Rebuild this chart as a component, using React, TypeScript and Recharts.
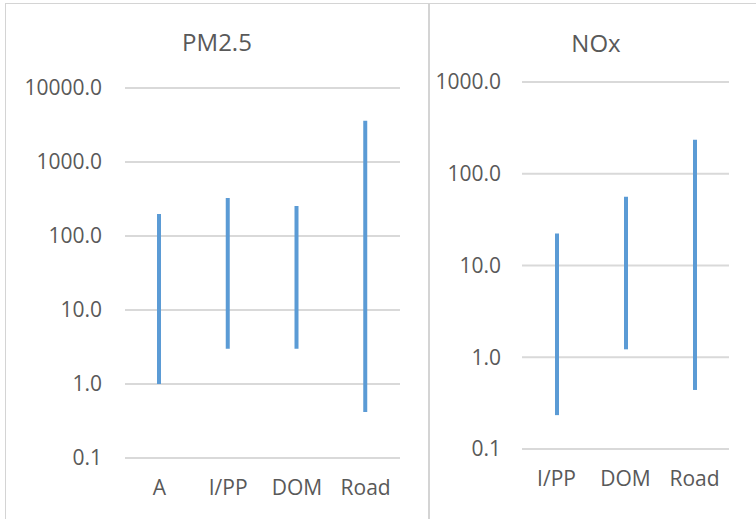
import { BarChart, Bar, XAxis, YAxis, CartesianGrid } from "recharts";

const pmCategories = ["A", "I/PP", "DOM", "Road"];
const pmLow = [1.0, 3.0, 3.0, 0.42];
const pmHigh = [198, 325, 255, 3600];

const noxCategories = ["I/PP", "DOM", "Road"];
const noxLow = [0.234, 1.22, 0.44];
const noxHigh = [22.3, 56, 234];

const pmTicks = [0.1, 1, 10, 100, 1000, 10000];
const noxTicks = [0.1, 1, 10, 100, 1000];

const font = "'Open Sans', 'Noto Sans', sans-serif";
const textColor = "#595959";
const barColor = "#5B9BD5";

const pmData = pmCategories.map((c, i) => ({ name: c, range: [pmLow[i], pmHigh[i]] }));
const noxData = noxCategories.map((c, i) => ({ name: c, range: [noxLow[i], noxHigh[i]] }));

const fmt = (v: number) => v.toFixed(1);

export default function App() {
  const tick = { fill: textColor, fontSize: 21, fontFamily: font };
  return (
    <div style={{ position: "absolute", left: 0, top: 0, width: 756, height: 519, background: "#fff", overflow: "hidden" }}>
      {/* panel borders */}
      <div style={{ position: "absolute", left: 5, top: 3, width: 422, height: 530, borderLeft: "1px solid #d4d4d4", borderTop: "1px solid #d4d4d4", borderRight: "1px solid #d4d4d4" }} />
      <div style={{ position: "absolute", left: 429, top: 3, width: 340, height: 530, borderLeft: "1px solid #d4d4d4", borderTop: "1px solid #d4d4d4" }} />

      <div style={{ position: "absolute", left: 0, top: 0 }}>
        <BarChart width={428} height={519} data={pmData} margin={{ top: 88, right: 28, bottom: 0, left: 0 }}>
          <CartesianGrid vertical={false} stroke="#d9d9d9" strokeWidth={2} />
          <XAxis dataKey="name" axisLine={false} tickLine={false} tickSize={0} tickMargin={22} height={61} tick={tick} interval={0} />
          <YAxis scale="log" domain={[0.1, 10000]} ticks={pmTicks} allowDataOverflow width={125} axisLine={false} tickLine={false} tickSize={0} tickMargin={23} tickFormatter={fmt} tick={tick} />
          <Bar dataKey="range" fill={barColor} barSize={4} isAnimationActive={false} />
        </BarChart>
      </div>
      <div style={{ position: "absolute", left: 0, width: 434, top: 25, textAlign: "center", fontFamily: font, fontSize: 24, color: textColor }}>PM2.5</div>

      <div style={{ position: "absolute", left: 429, top: 0 }}>
        <BarChart width={327} height={519} data={noxData} margin={{ top: 82, right: 27, bottom: 0, left: 0 }}>
          <CartesianGrid vertical={false} stroke="#d9d9d9" strokeWidth={2} />
          <XAxis dataKey="name" axisLine={false} tickLine={false} tickSize={0} tickMargin={22} height={70} tick={tick} interval={0} />
          <YAxis scale="log" domain={[0.1, 1000]} ticks={noxTicks} allowDataOverflow width={93} axisLine={false} tickLine={false} tickSize={0} tickMargin={21} tickFormatter={fmt} tick={tick} />
          <Bar dataKey="range" fill={barColor} barSize={4} isAnimationActive={false} />
        </BarChart>
      </div>
      <div style={{ position: "absolute", left: 540, width: 112, top: 26, textAlign: "center", fontFamily: font, fontSize: 24, color: textColor }}>NOx</div>
    </div>
  );
}
